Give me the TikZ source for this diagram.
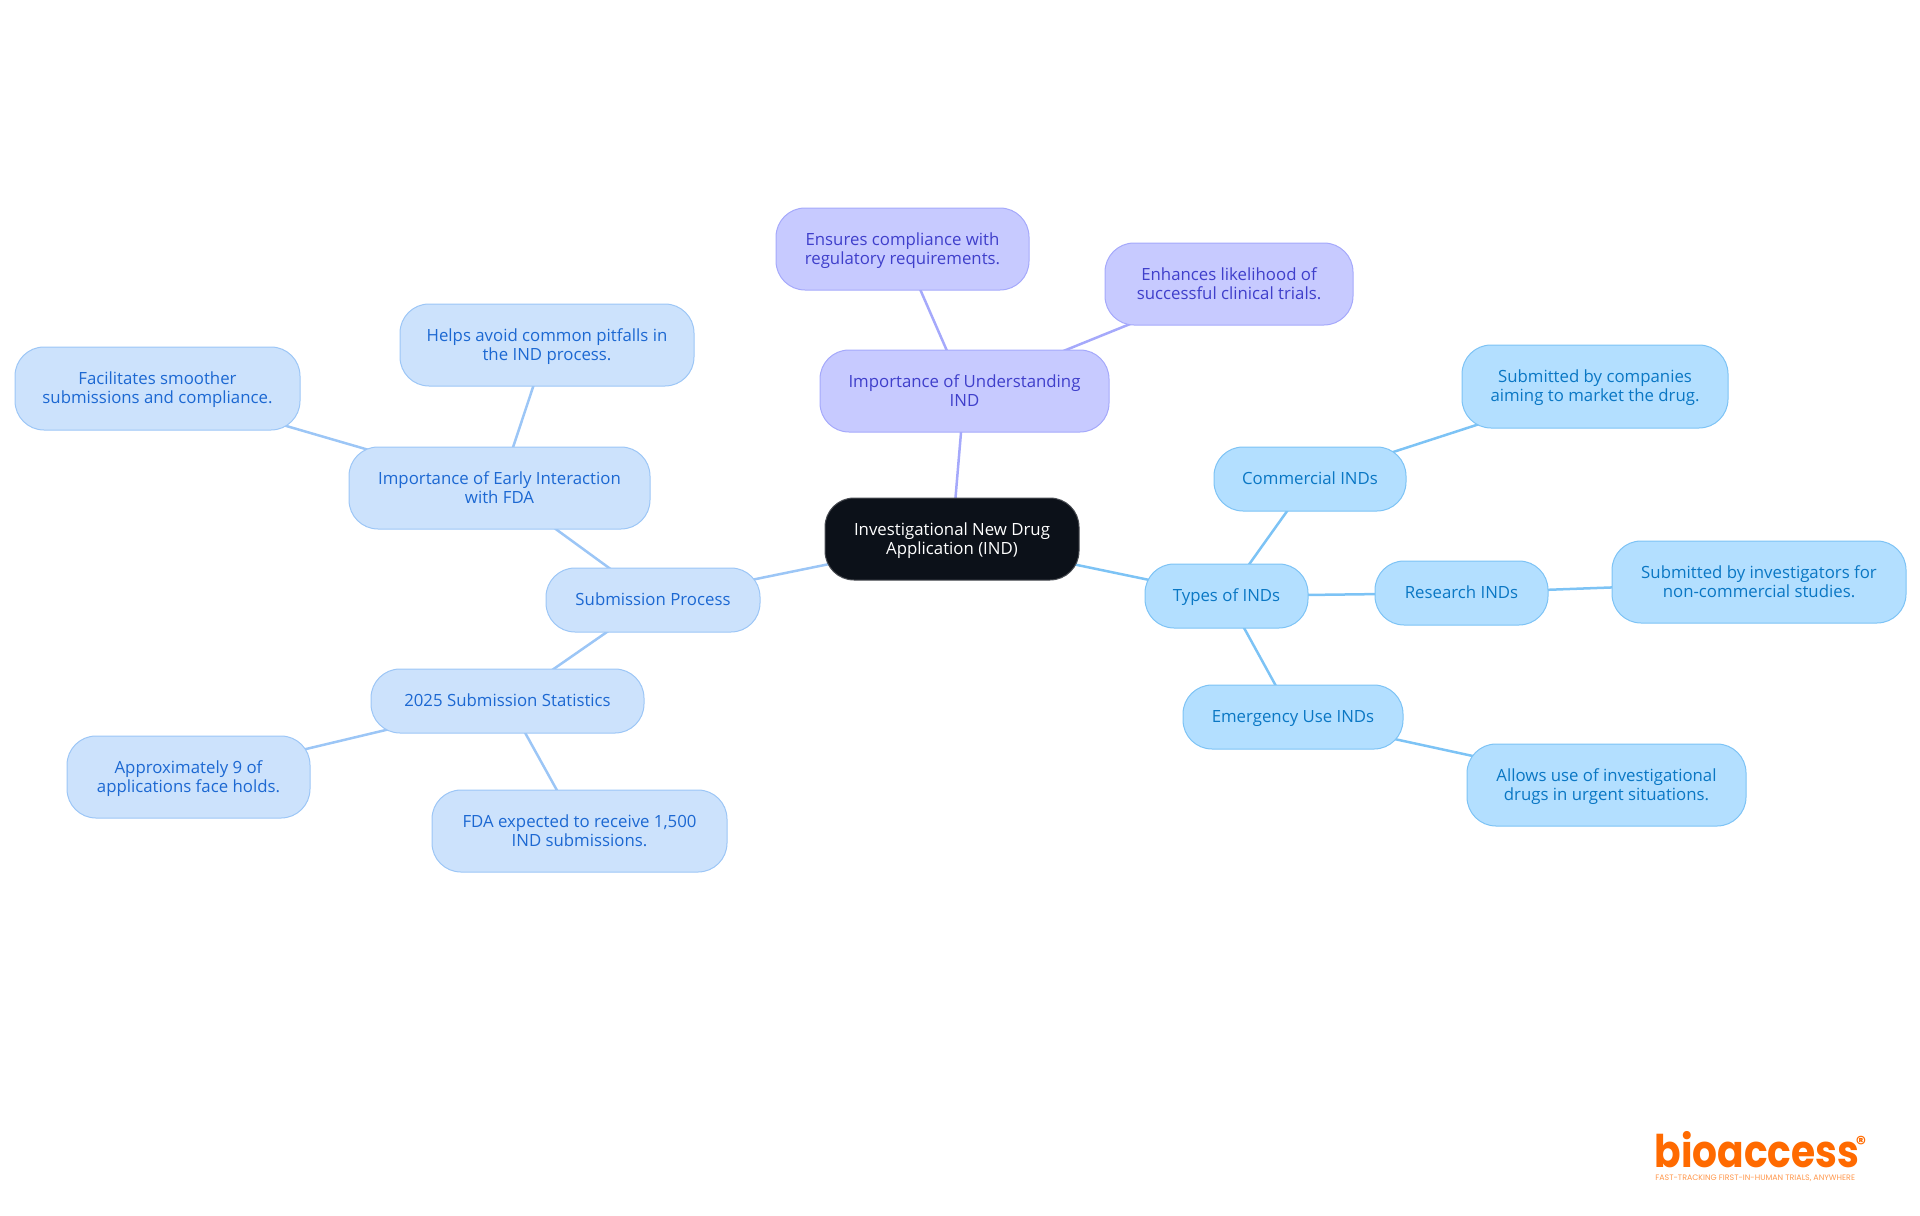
\documentclass[tikz,border=0pt]{standalone}
\usepackage{fontspec}
\setmainfont{Open Sans}
\newfontfamily\logofont{Poppins}
\usetikzlibrary{backgrounds}
\definecolor{inFill}{HTML}{C7CAFF}\definecolor{inLine}{HTML}{A5A9FB}\definecolor{inText}{HTML}{3F3FCB}
\definecolor{blFill}{HTML}{CCE2FC}\definecolor{blLine}{HTML}{9CC6F6}\definecolor{blText}{HTML}{1C68D2}
\definecolor{skFill}{HTML}{B3DFFF}\definecolor{skLine}{HTML}{7DC3F5}\definecolor{skText}{HTML}{0A77C4}
\definecolor{rootFill}{HTML}{0C1119}\definecolor{logoOr}{HTML}{FF6A00}
\tikzset{x=0.5pt,y=-0.5pt,
 boxbase/.style={rounded corners=14.5pt,align=center,inner sep=0pt,line width=0.5pt,
   font=\fontsize{8.4pt}{9.5pt}\selectfont},
 rootbox/.style={boxbase,draw=rootFill!75!white,fill=rootFill,text=white},
 inbox/.style={boxbase,draw=inLine,fill=inFill,text=inText},
 blbox/.style={boxbase,draw=blLine,fill=blFill,text=blText},
 skbox/.style={boxbase,draw=skLine,fill=skFill,text=skText},
 inedge/.style={draw=inLine,line width=1.25pt},
 bledge/.style={draw=blLine,line width=1.25pt},
 skedge/.style={draw=skLine,line width=1.25pt}}
% #1 name #2 style #3 x0 #4 y0 #5 x1 #6 y1 #7 text
\newcommand{\bx}[7]{\pgfmathsetmacro{\bxw}{(#5-#3)*0.5}\pgfmathsetmacro{\bxh}{(#6-#4)*0.5}%
 \pgfmathsetmacro{\bxx}{(#3+#5)/2}\pgfmathsetmacro{\bxy}{(#4+#6)/2}%
 \node[#2,minimum width=\bxw pt,minimum height=\bxh pt] (#1) at (\bxx,\bxy) {\rule{0pt}{8.3pt}#7\rule[-2.5pt]{0pt}{2.5pt}};}
\begin{document}
\begin{tikzpicture}
\useasboundingbox (0,0) rectangle (1920,1215);
\bx{root}{rootbox}{825}{498}{1079}{580}{Investigational New Drug\\Application (IND)}
\bx{und}{inbox}{820}{350}{1109}{432}{Importance of Understanding\\IND}
\bx{ens}{inbox}{776}{208}{1029}{290}{Ensures compliance with\\regulatory requirements.}
\bx{enh}{inbox}{1105}{243}{1353}{325}{Enhances likelihood of\\successful clinical trials.}
\bx{typ}{skbox}{1145}{564}{1308}{628}{Types of INDs}
\bx{com}{skbox}{1214}{447}{1406}{511}{Commercial INDs}
\bx{res}{skbox}{1375}{561}{1548}{625}{Research INDs}
\bx{eme}{skbox}{1183}{685}{1403}{749}{Emergency Use INDs}
\bx{comd}{skbox}{1462}{345}{1728}{428}{Submitted by companies\\aiming to market the drug.}
\bx{resd}{skbox}{1612}{541}{1906}{623}{Submitted by investigators for\\non-commercial studies.}
\bx{emed}{skbox}{1467}{744}{1746}{826}{Allows use of investigational\\drugs in urgent situations.}
\bx{sub}{blbox}{546}{568}{760}{632}{Submission Process}
\bx{ear}{blbox}{349}{447}{650}{529}{Importance of Early Interaction\\with FDA}
\bx{hel}{blbox}{400}{304}{694}{386}{Helps avoid common pitfalls in\\the IND process.}
\bx{fac}{blbox}{15}{347}{300}{430}{Facilitates smoother\\submissions and compliance.}
\bx{sta}{blbox}{371}{669}{644}{733}{2025 Submission Statistics}
\bx{app}{blbox}{67}{736}{310}{818}{Approximately 9 of\\applications face holds.}
\bx{fda}{blbox}{432}{790}{727}{872}{FDA expected to receive 1,500\\IND submissions.}
\begin{scope}[on background layer]
\draw[inedge] (root.center)--(und.center);
\draw[inedge] (und.center)--(ens.center);
\draw[inedge] (und.center)--(enh.center);
\draw[skedge] (root.center)--(typ.center);
\draw[skedge] (typ.center)--(com.center);
\draw[skedge] (typ.center)--(res.center);
\draw[skedge] (typ.center)--(eme.center);
\draw[skedge] (com.center)--(comd.center);
\draw[skedge] (res.center)--(resd.center);
\draw[skedge] (eme.center)--(emed.center);
\draw[bledge] (root.center)--(sub.center);
\draw[bledge] (sub.center)--(ear.center);
\draw[bledge] (sub.center)--(sta.center);
\draw[bledge] (ear.center)--(hel.center);
\draw[bledge] (ear.center)--(fac.center);
\draw[bledge] (sta.center)--(app.center);
\draw[bledge] (sta.center)--(fda.center);
\end{scope}
\node[inner sep=0pt,anchor=base west,text=logoOr,font=\logofont\bfseries\fontsize{22.5pt}{23pt}\selectfont] (logo) at (1654,1167) {\scalebox{0.87}[1]{bioaccess}};
\node[inner sep=0pt,anchor=center,text=logoOr,font=\logofont\bfseries\fontsize{10pt}{10pt}\selectfont] (reg) at (1861,1143) {®};
\node[inner sep=0pt,anchor=base west,text=logoOr!70!white,font=\logofont\fontsize{3.95pt}{4pt}\selectfont] (tag) at (1655,1180) {FAST-TRACKING FIRST-IN-HUMAN TRIALS, ANYWHERE};
\end{tikzpicture}
\end{document}
